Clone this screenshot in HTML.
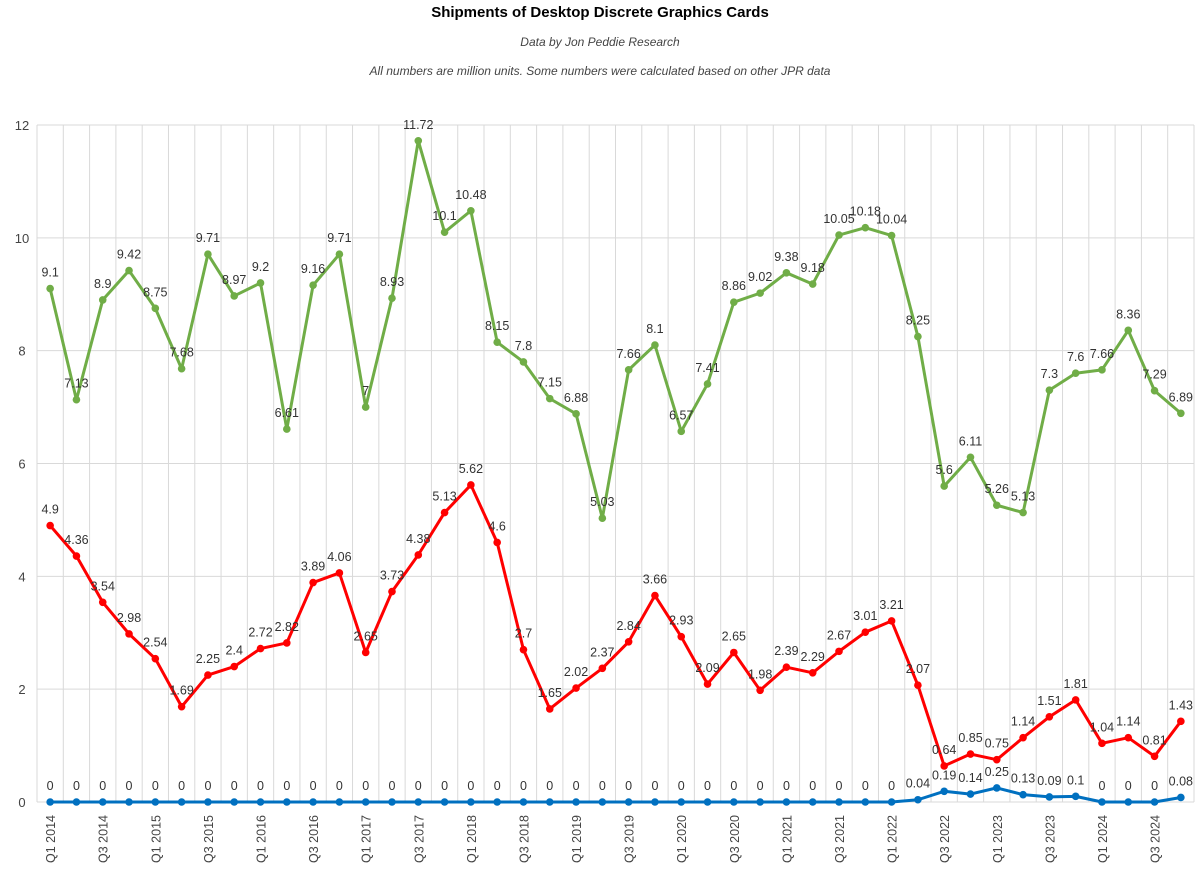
<!DOCTYPE html>
<html><head><meta charset="utf-8"><style>
body{margin:0;background:#fff;font-family:"Liberation Sans",sans-serif}
</style></head><body>
<svg id="c" width="1200" height="873" xmlns="http://www.w3.org/2000/svg">
<text x="600" y="17" text-anchor="middle" font-weight="bold" font-size="15">Shipments of Desktop Discrete Graphics Cards</text>
<text x="600" y="46" text-anchor="middle" font-style="italic" font-size="12" fill="#444">Data by Jon Peddie Research</text>
<text x="600" y="75" text-anchor="middle" font-style="italic" font-size="12" fill="#444">All numbers are million units. Some numbers were calculated based on other JPR data</text>
<g id="grid"></g><g id="series"></g><g id="labels"></g>
</svg>
<script>
const categories=[];for(let y=2014;y<=2024;y++)for(let q=1;q<=4;q++)categories.push('Q'+q+' '+y);
const greenValues=[9.1,7.13,8.9,9.42,8.75,7.68,9.71,8.97,9.2,6.61,9.16,9.71,7,8.93,11.72,10.1,10.48,8.15,7.8,7.15,6.88,5.03,7.66,8.1,6.57,7.41,8.86,9.02,9.38,9.18,10.05,10.18,10.04,8.25,5.6,6.11,5.26,5.13,7.3,7.6,7.66,8.36,7.29,6.89];
const redValues=[4.9,4.36,3.54,2.98,2.54,1.69,2.25,2.4,2.72,2.82,3.89,4.06,2.65,3.73,4.38,5.13,5.62,4.6,2.7,1.65,2.02,2.37,2.84,3.66,2.93,2.09,2.65,1.98,2.39,2.29,2.67,3.01,3.21,2.07,0.64,0.85,0.75,1.14,1.51,1.81,1.04,1.14,0.81,1.43];
const blueValues=[0,0,0,0,0,0,0,0,0,0,0,0,0,0,0,0,0,0,0,0,0,0,0,0,0,0,0,0,0,0,0,0,0,0.04,0.19,0.14,0.25,0.13,0.09,0.1,0,0,0,0.08];
const yTicks=[0,2,4,6,8,10,12];
const NS='http://www.w3.org/2000/svg';
const x0=37,x1=1194,yTop=125,yBot=802,yMax=12;
const step=(x1-x0)/categories.length;
const X=i=>x0+step*(i+0.5);
const Y=v=>yBot-(v/yMax)*(yBot-yTop);
function mk(t,a,p){const e=document.createElementNS(NS,t);for(const k in a)e.setAttribute(k,a[k]);p.appendChild(e);return e;}
const grid=document.getElementById('grid'),ser=document.getElementById('series'),lab=document.getElementById('labels');
yTicks.forEach(t=>{
 const l=mk('line',{x1:x0,x2:x1,y1:Y(t),y2:Y(t),stroke:'#d9d9d9'},grid);
 
 
 const tx=mk('text',{x:22,y:Y(t)+5,'text-anchor':'middle','font-size':13,fill:'#444'},grid);tx.textContent=t;
 
 
});
for(let i=0;i<=categories.length;i++){
 const l=mk('line',{x1:x0+step*i,x2:x0+step*i,y1:yTop,y2:yBot,stroke:'#d9d9d9'},grid);
 
 
}
categories.forEach((c,i)=>{
 if(i%2)return;
 const t=mk('text',{transform:`translate(${X(i)+5},815) rotate(-90)`,'text-anchor':'end','font-size':12.5,fill:'#444'},grid);t.textContent=c;
 
 
});
function draw(vals,color,name){
 const p=mk('polyline',{points:vals.map((v,i)=>X(i)+','+Y(v)).join(' '),fill:'none',stroke:color,'stroke-width':3,'stroke-linejoin':'round'},ser);
 
 
 vals.forEach((v,i)=>{
  const c=mk('circle',{cx:X(i),cy:Y(v),r:3.8,fill:color},ser);
  
  
  const t=mk('text',{x:X(i),y:Y(v)-12,'text-anchor':'middle','font-size':12.5,fill:'#333'},lab);t.textContent=v;
  
  
 });
}
draw(greenValues,'#70ad47','green-series');
draw(redValues,'#ff0000','red-series');
draw(blueValues,'#0070c0','blue-series');
</script>
</body></html>
